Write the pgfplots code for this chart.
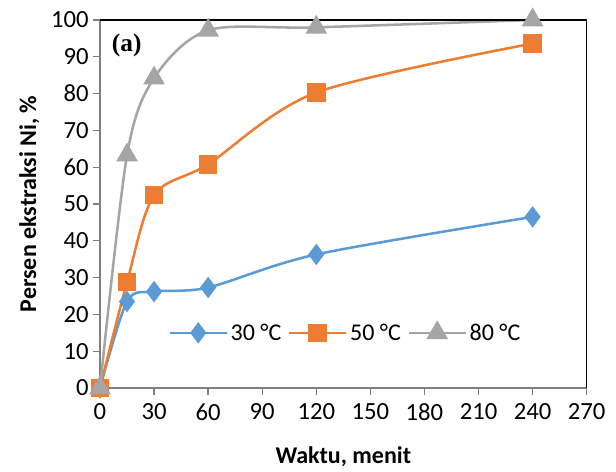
\documentclass[border=0pt]{standalone}
\usepackage{pgfplots}
\pgfplotsset{compat=1.18}
\usepackage{fontspec}
\setmainfont{Carlito}
\newfontfamily\timesfont{Liberation Serif}
\definecolor{cblue}{HTML}{5B9BD5}
\definecolor{corange}{HTML}{ED7D31}
\definecolor{cgrey}{HTML}{A5A5A5}
\definecolor{axgrey}{HTML}{7F7F7F}
\begin{document}
\begin{tikzpicture}
\begin{axis}[
  scale only axis,
  width=365pt, height=276pt,
  xmin=0, xmax=270, ymin=0, ymax=100,
  xtick={0,30,...,270}, ytick={0,10,...,100},
  axis x line*=bottom, axis y line*=left,
  axis line style={axgrey, line width=1.2pt},
  every axis x line/.append style={-}, every axis y line/.append style={-},
  tick style={axgrey, line width=1pt},
  tick align=outside, major tick length=5pt,
  /pgf/number format/assume math mode=true,
  tick label style={font=\fontsize{18.5}{21}\selectfont},
  xticklabel style={yshift=-3pt},
  xlabel={\textbf{Waktu, menit}},
  ylabel={\textbf{Persen ekstraksi Ni, \%}},
  label style={font=\fontsize{18}{21}\selectfont},
  xlabel style={yshift=-13pt},
  ylabel style={yshift=2pt},
  clip=false,
  legend style={draw=none, fill=none, at={(rel axis cs:0.505,0.15)}, anchor=center,
    legend columns=3, font=\fontsize{18}{21}\selectfont,
    /tikz/every even column/.append style={column sep=3pt}},
  legend cell align=left,
  legend image code/.code={
    \draw[#1, mark=none] (0cm,0cm) -- (1.5cm,0cm);
    \draw[#1, only marks] plot coordinates {(0.75cm,0cm)};
  },
]
\addplot[cblue, line width=1.9pt, smooth, tension=0.5, mark=diamond*, mark size=6.5pt, mark options={fill=cblue, draw=cblue}]
  coordinates {(0,0) (15,23.5) (30,26.2) (60,27.3) (120,36.3) (240,46.5)};
\addplot[corange, line width=1.9pt, smooth, tension=0.5, mark=square*, mark size=6pt, mark options={fill=corange, draw=corange}]
  coordinates {(0,0) (15,28.8) (30,52.4) (60,60.8) (120,80.3) (240,93.6)};
\addplot[cgrey, line width=1.9pt, smooth, tension=0.5, mark=triangle*, mark size=7.5pt, mark options={fill=cgrey, draw=cgrey}]
  coordinates {(0,0) (15,63.3) (30,84.2) (60,97.2) (120,98.0) (240,100)};
\legend{30 °C, 50 °C, 80 °C}
\draw[black, line width=1.2pt] (rel axis cs:0,1) -- (rel axis cs:1,1) -- (rel axis cs:1,0);
\node[font=\timesfont\bfseries\fontsize{19}{22}\selectfont] at (rel axis cs:0.055,0.93) {(a)};
\path (rel axis cs:0,0) ++(-75pt,-61.5pt);
\path (rel axis cs:1,1) ++(22pt,15pt);
\end{axis}
\end{tikzpicture}
\end{document}
